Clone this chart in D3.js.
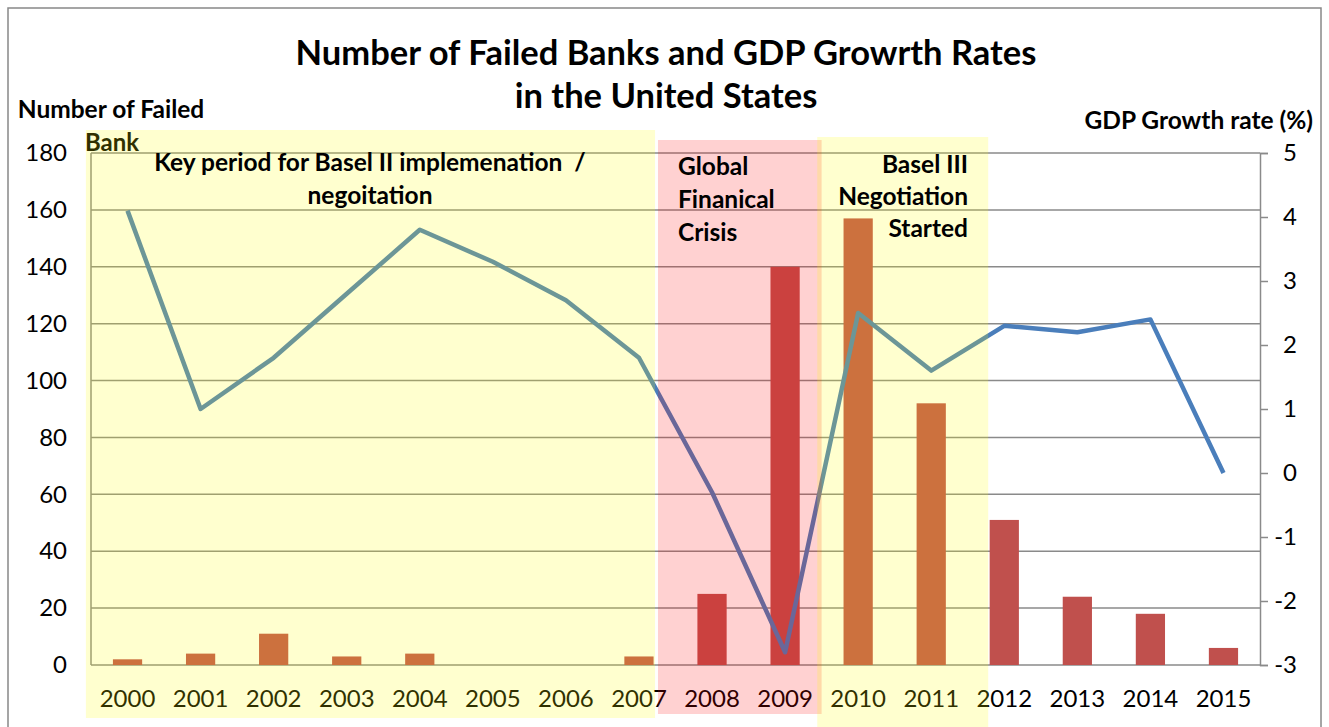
<!DOCTYPE html>
<html>
<head>
    <title>Failed Banks and GDP Growth</title>
    <script src="https://d3js.org/d3.v7.min.js"></script>
    <style>
        body { margin: 0; background: #fff; }
        text { font-family: Lato, "Open Sans", sans-serif; white-space: pre; }
    </style>
</head>
<body>
    <script>
        // data
        const years = ["2000","2001","2002","2003","2004","2005","2006","2007",
                       "2008","2009","2010","2011","2012","2013","2014","2015"];
        const failedBanks = [2, 4, 11, 3, 4, 0, 0, 3, 25, 140, 157, 92, 51, 24, 18, 6];
        const gdpGrowth = [4.1, 1.0, 1.8, 2.8, 3.8, 3.3, 2.7, 1.8, -0.3, -2.8, 2.5, 1.6, 2.3, 2.2, 2.4, 0.0];
        const leftTicks = [0, 20, 40, 60, 80, 100, 120, 140, 160, 180];
        const rightTicks = [-3, -2, -1, 0, 1, 2, 3, 4, 5];

        // shaded periods, in category-index units (centres at 0..15)
        const periods = [
            {from: -0.57, to: 7.22, top: 130, bottom: 718, fill: "rgba(255,255,0,0.19)"},
            {from: 7.26, to: 9.5, top: 140, bottom: 714, fill: "rgba(255,0,0,0.18)"},
            {from: 9.44, to: 11.78, top: 137, bottom: 727, fill: "rgba(255,255,0,0.19)"}
        ];

        const W = 1329, H = 727;
        const plotL = 91, plotR = 1260, plotT = 153, plotB = 665;

        const svg = d3.select("body").append("svg")
            .attr("width", W)
            .attr("height", H);

        // outer frame
        svg.append("rect")
            .attr("x", 8).attr("y", 8)
            .attr("width", 1313).attr("height", 740)
            .attr("fill", "none")
            .attr("stroke", "#888")
            .attr("stroke-width", 1.5);

        const x = d3.scaleBand().domain(years).range([plotL, plotR]).padding(0);
        const xi = d3.scaleLinear().domain([-0.5, years.length - 0.5]).range([plotL, plotR]);
        const yL = d3.scaleLinear().domain([0, 180]).range([plotB, plotT]);
        const yR = d3.scaleLinear().domain([-3, 5]).range([plotB, plotT]);

        // gridlines
        svg.append("g")
            .selectAll("line")
            .data(leftTicks)
            .join("line")
            .attr("x1", plotL).attr("x2", plotR)
            .attr("y1", d => yL(d)).attr("y2", d => yL(d))
            .attr("stroke", "#8a8a8a")
            .attr("stroke-width", 1.5);

        // left axis line
        svg.append("line")
            .attr("x1", plotL).attr("x2", plotL)
            .attr("y1", plotT).attr("y2", plotB)
            .attr("stroke", "#8a8a8a").attr("stroke-width", 1.5);

        // right axis
        const rAxis = svg.append("g")
            .attr("transform", "translate(" + plotR + ",0)")
            .call(d3.axisRight(yR).tickValues(rightTicks).tickSize(8).tickFormat(d3.format("d")));
        rAxis.select(".domain").attr("stroke", "#8a8a8a").attr("stroke-width", 1.5);
        rAxis.selectAll(".tick line").attr("stroke", "#8a8a8a").attr("stroke-width", 1.5);
        rAxis.selectAll(".tick text")
            .attr("x", 37)
            .attr("text-anchor", "end")
            .attr("font-size", 24)
            .attr("fill", "#000")
            .text(d => d < 0 ? "-" + Math.abs(d) : d);

        // left tick labels
        const lAxis = svg.append("g")
            .attr("transform", "translate(" + plotL + ",0)")
            .call(d3.axisLeft(yL).tickValues(leftTicks).tickSize(0));
        lAxis.select(".domain").remove();
        lAxis.selectAll(".tick text")
            .attr("x", -24)
            .attr("font-size", 24)
            .attr("fill", "#000");

        // bars
        const barW = x.bandwidth() * 0.4;
        svg.append("g")
            .selectAll("rect")
            .data(failedBanks)
            .join("rect")
            .attr("x", (d, i) => x(years[i]) + (x.bandwidth() - barW) / 2)
            .attr("y", d => yL(d))
            .attr("width", barW)
            .attr("height", d => plotB - yL(d))
            .attr("fill", "#c0504d");

        // GDP line
        const line = d3.line()
            .x((d, i) => x(years[i]) + x.bandwidth() / 2)
            .y(d => yR(d));
        svg.append("path")
            .datum(gdpGrowth)
            .attr("d", line)
            .attr("fill", "none")
            .attr("stroke", "#4a7ebb")
            .attr("stroke-width", 4.5)
            .attr("stroke-linejoin", "round");

        // year labels
        svg.append("g")
            .selectAll("text")
            .data(years)
            .join("text")
            .attr("x", d => x(d) + x.bandwidth() / 2)
            .attr("y", 707)
            .attr("text-anchor", "middle")
            .attr("font-size", 24)
            .text(d => d);

        // "Bank" sits under the overlay in the original
        svg.append("text")
            .attr("x", 112).attr("y", 151)
            .attr("text-anchor", "middle")
            .attr("font-size", 24).attr("font-weight", "bold")
            .text("Bank");

        // shaded periods on top
        svg.append("g")
            .selectAll("rect")
            .data(periods)
            .join("rect")
            .attr("x", d => xi(d.from))
            .attr("y", d => d.top)
            .attr("width", d => xi(d.to) - xi(d.from))
            .attr("height", d => d.bottom - d.top)
            .attr("fill", d => d.fill);

        // titles
        const title = svg.append("text")
            .attr("text-anchor", "middle")
            .attr("font-size", 34.5)
            .attr("font-weight", "bold");
        title.append("tspan").attr("x", 666).attr("y", 65).text("Number of Failed Banks and GDP Growrth Rates");
        title.append("tspan").attr("x", 666).attr("y", 108).text("in the United States");

        svg.append("text")
            .attr("x", 111).attr("y", 118)
            .attr("text-anchor", "middle")
            .attr("font-size", 24.5).attr("font-weight", "bold")
            .text("Number of Failed");

        svg.append("text")
            .attr("x", 1313).attr("y", 129)
            .attr("text-anchor", "end")
            .attr("font-size", 24.5).attr("font-weight", "bold")
            .text("GDP Growth rate (%)");

        // annotations
        function note(lines, xPos, y0, anchor, dy) {
            const t = svg.append("text")
                .attr("text-anchor", anchor)
                .attr("font-size", 24.5)
                .attr("font-weight", "bold");
            lines.forEach((s, i) => {
                t.append("tspan").attr("x", xPos).attr("y", y0 + i * dy).text(s);
            });
        }
        note(["Key period for Basel II implemenation  /", "negoitation"], 370, 171, "middle", 33);
        note(["Global", "Finanical", "Crisis"], 678, 175, "start", 33);
        note(["Basel III", "Negotiation", "Started"], 968, 173, "end", 32);
    </script>
</body>
</html>
